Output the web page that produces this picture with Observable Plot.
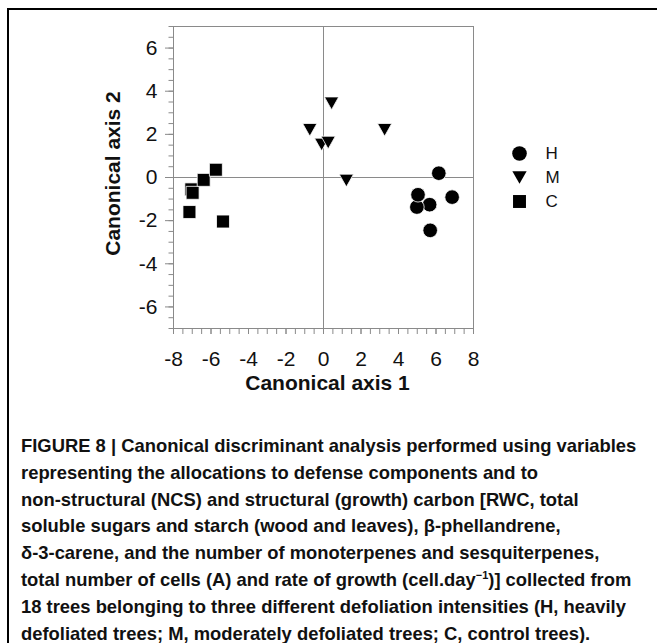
<!DOCTYPE html>
<html>
<head>
<meta charset="utf-8">
<script src="https://cdn.jsdelivr.net/npm/d3@7"></script>
<script src="https://cdn.jsdelivr.net/npm/@observablehq/plot@0.6"></script>
<style>
  html, body { margin: 0; padding: 0; background: #fff; }
  body { width: 657px; height: 643px; position: relative; overflow: hidden; font-family: "Liberation Sans", Arial, sans-serif; }
  #frame { position: absolute; left: 7px; top: 8px; width: 660px; height: 650px; border-top: 2px solid #000; border-left: 2px solid #000; }
  #chart { position: absolute; left: 0; top: 0; }
  #legend { position: absolute; left: 505px; top: 135px; }
  #caption { position: absolute; left: 21px; top: 433px; font-weight: bold; font-size: 18.4px; line-height: 26.8px; color: #111; white-space: nowrap; }
  #caption sup { font-size: 11px; line-height: 0; }
</style>
</head>
<body>
<div id="frame"></div>
<div id="chart"></div>
<div id="legend"></div>
<div id="caption">FIGURE 8 | Canonical discriminant analysis performed using variables<br>representing the allocations to defense components and to<br>non-structural (NCS) and structural (growth) carbon [RWC, total<br>soluble sugars and starch (wood and leaves), β-phellandrene,<br>δ-3-carene, and the number of monoterpenes and sesquiterpenes,<br>total number of cells (A) and rate of growth (cell.day<sup>−1</sup>)] collected from<br>18 trees belonging to three different defoliation intensities (H, heavily<br>defoliated trees; M, moderately defoliated trees; C, control trees).</div>
<script>
// ---- data ----
const groups = ["H", "M", "C"];
const hX = [6.15, 6.86, 5.69, 5.66, 4.98, 5.04];
const hY = [0.20, -0.91, -2.45, -1.26, -1.37, -0.80];
const mX = [0.43, -0.73, 3.26, -0.10, 0.25, 1.22];
const mY = [3.44, 2.21, 2.21, 1.53, 1.62, -0.14];
const cX = [-7.05, -6.98, -7.15, -6.39, -5.74, -5.36];
const cY = [-0.55, -0.71, -1.60, -0.11, 0.36, -2.04];
const xMajorTicks = [-8, -6, -4, -2, 0, 2, 4, 6, 8];
const yMajorTicks = [-6, -4, -2, 0, 2, 4, 6];
const xMinorTicks = d3.range(-8, 8.001, 0.5);
const yMinorTicks = d3.range(-7, 7.001, 0.5);
const xTitle = "Canonical axis 1";
const yTitle = "Canonical axis 2";

const rows = (g, xs, ys) => xs.map((x, i) => ({group: g, x, y: ys[i]}));
const H = rows("H", hX, hY), M = rows("M", mX, mY), C = rows("C", cX, cY);

const triangleDown = {
  draw(context, size) {
    const r = Math.sqrt(size / Math.PI);
    const w = 0.98 * r, h = 0.87 * r;
    context.moveTo(-w, -h);
    context.lineTo(w, -h);
    context.lineTo(0, h);
    context.closePath();
  }
};
const symbolOf = {H: "circle", M: triangleDown, C: "square"};
const R = 7.3;
const dotOpts = (g) => ({x: "x", y: "y", r: R, symbol: symbolOf[g], fill: "#000", stroke: "#fff", strokeWidth: 0.8});

const axisGray = "#8a8a8a";
const chart = Plot.plot({
  width: 657,
  height: 410,
  marginLeft: 173,
  marginRight: 184,
  marginTop: 26,
  marginBottom: 82,
  style: {fontFamily: "'Liberation Sans', Arial, sans-serif", fontSize: "21px", color: "#111", background: "transparent"},
  x: {domain: [-8, 8], label: null},
  y: {domain: [-7, 7], label: null},
  marks: [
    Plot.ruleX([0], {stroke: axisGray, strokeWidth: 1}),
    Plot.ruleY([0], {stroke: axisGray, strokeWidth: 1}),
    Plot.frame({stroke: axisGray, strokeWidth: 1}),
    Plot.axisX(xMinorTicks, {tickSize: 6, tickFormat: () => "", stroke: axisGray, label: null}),
    Plot.axisX(xMajorTicks, {tickSize: 6, tickPadding: 17, stroke: axisGray, fill: "#111", fontSize: 21, label: null, tickFormat: d => d}),
    Plot.axisY(yMinorTicks, {tickSize: 4.5, tickFormat: () => "", stroke: axisGray, label: null}),
    Plot.axisY(yMajorTicks, {tickSize: 8, tickPadding: 8, stroke: axisGray, fill: "#111", fontSize: 21, label: null, tickFormat: d => d}),
    Plot.text([xTitle], {frameAnchor: "bottom", dy: 55, dx: 4, text: d => d, textAnchor: "middle", lineAnchor: "middle", fontSize: 21, fontWeight: "bold", fill: "#111"}),
    Plot.text([yTitle], {frameAnchor: "left", dx: -60, dy: -4, rotate: -90, text: d => d, textAnchor: "middle", lineAnchor: "middle", fontSize: 21, fontWeight: "bold", fill: "#111"}),
    Plot.dot(C, dotOpts("C")),
    Plot.dot(M, dotOpts("M")),
    Plot.dot(H, dotOpts("H"))
  ]
});
document.getElementById("chart").appendChild(chart);

const legend = Plot.plot({
  width: 80,
  height: 84,
  marginTop: 18,
  marginBottom: 18,
  marginLeft: 14,
  marginRight: 0,
  style: {fontFamily: "'Liberation Sans', Arial, sans-serif", background: "transparent"},
  y: {type: "point", domain: groups, padding: 0, axis: null},
  x: {axis: null},
  marks: [
    ...groups.map(g => Plot.dot([g], {y: d => d, frameAnchor: "left", r: R, symbol: symbolOf[g], fill: "#000"})),
    Plot.text(groups, {y: d => d, frameAnchor: "left", dx: 26, text: d => d, textAnchor: "start", fontSize: 17, fill: "#111"})
  ]
});
document.getElementById("legend").appendChild(legend);
</script>
</body>
</html>
